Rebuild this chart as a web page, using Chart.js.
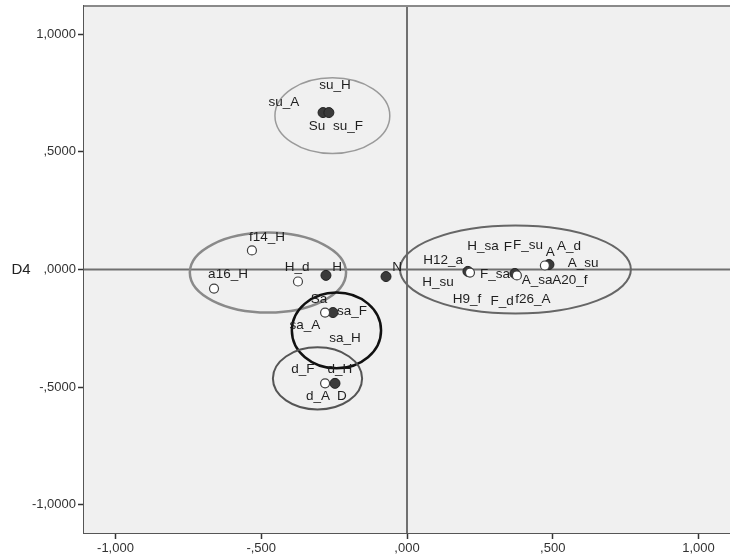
<!DOCTYPE html>
<html>
<head>
<meta charset="utf-8">
<script src="https://cdn.jsdelivr.net/npm/chart.js@4.4.1/dist/chart.umd.min.js"></script>
<style>
  html, body { margin: 0; padding: 0; background: #ffffff; overflow: hidden; }
  #wrap { width: 730px; height: 560px; overflow: hidden; }
</style>
</head>
<body>
<div id="wrap"><canvas id="c" width="736" height="560"></canvas></div>
<script>
// punkty wypełnione (centroidy) i puste (obiekty)
const filledPts = [
  { x: -0.288, y: 0.667 }, { x: -0.268, y: 0.667 },
  { x: -0.278, y: -0.025 }, { x: -0.072, y: -0.030 },
  { x: -0.254, y: -0.183 },
  { x: -0.247, y: -0.484 },
  { x: 0.209, y: -0.008 }, { x: 0.370, y: -0.017 },
  { x: 0.487, y: 0.021 }
];
const openPts = [
  { x: -0.532, y: 0.081 }, { x: -0.662, y: -0.081 }, { x: -0.374, y: -0.051 },
  { x: -0.281, y: -0.183 },
  { x: -0.281, y: -0.484 },
  { x: 0.216, y: -0.013 }, { x: 0.377, y: -0.025 }, { x: 0.473, y: 0.017 }
];

// etykiety punktów (pozycja tekstu w jednostkach osi)
const pointLabels = [
  ['su_H', -0.247, 0.781], ['su_A', -0.422, 0.709], ['Su', -0.309, 0.607], ['su_F', -0.202, 0.607],
  ['f14_H', -0.480, 0.136], ['a16_H', -0.614, -0.021], ['H_d', -0.377, 0.008], ['H', -0.240, 0.008],
  ['N', -0.034, 0.008],
  ['Sa', -0.302, -0.127], ['sa_F', -0.189, -0.178], ['sa_A', -0.350, -0.238], ['sa_H', -0.213, -0.293],
  ['d_F', -0.357, -0.425], ['d_H', -0.230, -0.425], ['d_A', -0.305, -0.539], ['D', -0.223, -0.539],
  ['H_sa', 0.261, 0.098], ['F', 0.346, 0.093], ['F_su', 0.415, 0.102], ['A', 0.491, 0.072],
  ['A_d', 0.556, 0.098], ['H12_a', 0.124, 0.038], ['A_su', 0.604, 0.025], ['F_sa', 0.302, -0.021],
  ['H_su', 0.106, -0.055], ['A_sa', 0.446, -0.047], ['A20_f', 0.559, -0.047],
  ['H9_f', 0.206, -0.127], ['F_d', 0.326, -0.136], ['f26_A', 0.432, -0.127]
];

// skupienia: środek, promienie (jednostki osi)
const clusters = [
  { cx: -0.256, cy: 0.654, rx: 0.197, ry: 0.161, color: '#9a9a9a', w: 1.5 },
  { cx: -0.477, cy: -0.013, rx: 0.268, ry: 0.170, color: '#8a8a8a', w: 2.5 },
  { cx: -0.242, cy: -0.259, rx: 0.153, ry: 0.161, color: '#111111', w: 2.5 },
  { cx: -0.307, cy: -0.463, rx: 0.153, ry: 0.132, color: '#555555', w: 2 },
  { cx: 0.372, cy: 0.000, rx: 0.396, ry: 0.187, color: '#666666', w: 2 }
];

const tickValues = [-1, -0.5, 0, 0.5, 1];
const xTickLabels = ['-1,000', '-,500', ',000', ',500', '1,000'];
const yTickLabels = ['-1,0000', '-,5000', ',0000', ',5000', '1,0000'];

const FONT = '"Liberation Sans", Arial, sans-serif';

const framePlugin = {
  id: 'frame',
  beforeDatasetsDraw(chart) {
    const { ctx, chartArea: a, scales: { x, y } } = chart;
    ctx.save();
    ctx.fillStyle = '#f0f0f0';
    ctx.fillRect(a.left, a.top, a.right - a.left, a.bottom - a.top);
    // linie odniesienia
    ctx.strokeStyle = '#707070';
    ctx.lineWidth = 2;
    ctx.beginPath();
    ctx.moveTo(x.getPixelForValue(0), a.top);
    ctx.lineTo(x.getPixelForValue(0), a.bottom);
    ctx.moveTo(a.left, y.getPixelForValue(0));
    ctx.lineTo(a.right, y.getPixelForValue(0));
    ctx.stroke();
    // ramka górna
    ctx.strokeStyle = '#8a8a8a';
    ctx.beginPath();
    ctx.moveTo(a.left, a.top);
    ctx.lineTo(a.right, a.top);
    ctx.stroke();
    // elipsy
    clusters.forEach(c => {
      const px = x.getPixelForValue(c.cx), py = y.getPixelForValue(c.cy);
      const rx = Math.abs(x.getPixelForValue(c.cx + c.rx) - px);
      const ry = Math.abs(y.getPixelForValue(c.cy + c.ry) - py);
      ctx.strokeStyle = c.color;
      ctx.lineWidth = c.w;
      ctx.beginPath();
      ctx.ellipse(px, py, rx, ry, 0, 0, Math.PI * 2);
      ctx.stroke();
    });
    ctx.restore();
  },
  afterDatasetsDraw(chart) {
    const { ctx, scales: { x, y } } = chart;
    ctx.save();
    ctx.fillStyle = '#1e1e1e';
    ctx.font = '13.5px ' + FONT;
    ctx.textAlign = 'center';
    ctx.textBaseline = 'middle';
    pointLabels.forEach(([t, vx, vy]) => {
      ctx.fillText(t, x.getPixelForValue(vx), y.getPixelForValue(vy));
    });
    ctx.font = '15px ' + FONT;
    ctx.fillStyle = '#222';
    ctx.fillText('D4', 21, y.getPixelForValue(0));
    ctx.restore();
  }
};

new Chart(document.getElementById('c'), {
  type: 'scatter',
  data: {
    datasets: [
      {
        label: 'obiekty',
        data: openPts,
        pointRadius: 4.5,
        pointBackgroundColor: '#ffffff',
        pointBorderColor: '#404040',
        pointBorderWidth: 1.2
      },
      {
        label: 'centroidy',
        data: filledPts,
        pointRadius: 5,
        pointBackgroundColor: '#3a3a3a',
        pointBorderColor: '#222222',
        pointBorderWidth: 1
      }
    ]
  },
  options: {
    responsive: false,
    animation: false,
    layout: { padding: { top: 6, right: 0, left: 0, bottom: 0 } },
    plugins: { legend: { display: false }, tooltip: { enabled: false } },
    scales: {
      x: {
        type: 'linear',
        min: -1.108, max: 1.108,
        afterBuildTicks: s => { s.ticks = tickValues.map(v => ({ value: v })); },
        afterFit: s => { s.height = 27; s.paddingLeft = 0; s.paddingRight = 0; },
        grid: { drawOnChartArea: false, tickLength: 6, color: '#333', tickWidth: 1.5 },
        border: { color: '#555', width: 2 },
        ticks: {
          color: '#333', padding: 2,
          font: { size: 13, family: FONT },
          callback: v => xTickLabels[tickValues.indexOf(v)]
        }
      },
      y: {
        type: 'linear',
        min: -1.12, max: 1.12,
        afterBuildTicks: s => { s.ticks = tickValues.map(v => ({ value: v })); },
        afterFit: s => { s.width = 84; s.paddingTop = 0; s.paddingBottom = 0; },
        grid: { drawOnChartArea: false, tickLength: 6, color: '#333', tickWidth: 1.5 },
        border: { color: '#555', width: 2 },
        ticks: {
          color: '#333', padding: 2,
          font: { size: 13, family: FONT },
          callback: v => yTickLabels[tickValues.indexOf(v)]
        }
      }
    }
  },
  plugins: [framePlugin]
});
</script>
</body>
</html>
